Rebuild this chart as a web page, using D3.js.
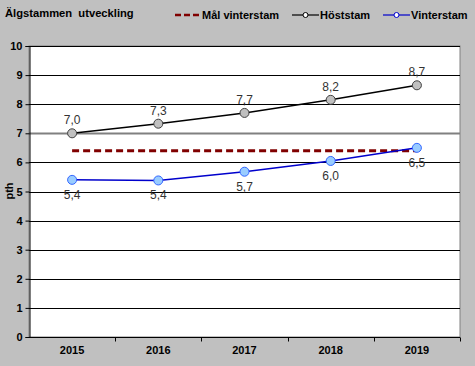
<!DOCTYPE html>
<html><head><meta charset="utf-8">
<script src="https://cdn.jsdelivr.net/npm/d3@7"></script>
<style>body{margin:0;background:#c0c0c0}svg{display:block}</style>
</head><body><svg id="c" width="475" height="366"></svg>
<script>
const years = ["2015","2016","2017","2018","2019"];
const malVinterstam = [6.4, 6.4, 6.4, 6.4, 6.4];
const hoststam = [7.0, 7.33, 7.7, 8.15, 8.65];
const vinterstam = [5.4, 5.38, 5.68, 6.05, 6.5];
const hostLabels = ["7,0","7,3","7,7","8,2","8,7"];
const vinterLabels = ["5,4","5,4","5,7","6,0","6,5"];
const yTicks = [0,1,2,3,4,5,6,7,8,9,10];

const svg = d3.select("#c");
const L = 29, R = 460, T = 46, B = 337;
const x = d3.scaleBand().domain(years).range([L, R]);
const y = d3.scaleLinear().domain([0, 10]).range([B, T]);
const cx = d => x(d) + x.bandwidth()/2;
const lf = "Arial, Liberation Sans, sans-serif";

svg.append("rect").attr("width",475).attr("height",366).attr("fill","#c0c0c0");
svg.append("rect").attr("x",L).attr("y",T).attr("width",R-L).attr("height",B-T)
  .attr("fill","#fff").attr("stroke","#808080").attr("stroke-width",1);

// gridlines
svg.append("g").selectAll("line").data(yTicks.filter(t=>t>0)).join("line")
  .attr("x1",L).attr("x2",R).attr("y1",d=>Math.round(y(d))+0.5).attr("y2",d=>Math.round(y(d))+0.5)
  .attr("stroke",d=>d===7?"#808080":"#000").attr("stroke-width",d=>d===7?2:1);

// y axis
const ya = svg.append("g").attr("transform",`translate(${L+0.5},0)`)
  .call(d3.axisLeft(y).tickValues(yTicks).tickSize(4).tickPadding(3));
ya.select(".domain").attr("stroke","#000");
ya.selectAll("text").attr("font-family",lf).attr("font-size",11).attr("font-weight","bold").attr("fill","#000");

// x axis
const xa = svg.append("g").attr("transform",`translate(0,${B+0.5})`);
xa.append("line").attr("x1",L).attr("x2",R).attr("stroke","#000");
xa.selectAll(".tk").data(years).join("line").attr("class","tk")
  .attr("x1",d=>Math.round(x(d)+x.bandwidth())+0.5).attr("x2",d=>Math.round(x(d)+x.bandwidth())+0.5)
  .attr("y1",0).attr("y2",4).attr("stroke","#000");
xa.selectAll("text").data(years).join("text")
  .attr("x",cx).attr("y",16).attr("text-anchor","middle")
  .attr("font-family",lf).attr("font-size",11).attr("font-weight","bold").text(d=>d);

// y label
svg.append("text").attr("transform","translate(13,191) rotate(-90)").attr("text-anchor","middle")
  .attr("font-family",lf).attr("font-size",11).attr("font-weight","bold").text("pth");

const line = d3.line().x((d,i)=>cx(years[i])).y(d=>y(d));
svg.append("path").datum(malVinterstam).attr("d",line).attr("fill","none")
  .attr("stroke","#800000").attr("stroke-width",3).attr("stroke-dasharray","7,4");
svg.append("path").datum(hoststam).attr("d",line).attr("fill","none").attr("stroke","#000").attr("stroke-width",1.5);
svg.append("path").datum(vinterstam).attr("d",line).attr("fill","none").attr("stroke","#0000cc").attr("stroke-width",1.5);

svg.append("g").selectAll("circle").data(hoststam).join("circle")
  .attr("cx",(d,i)=>cx(years[i])).attr("cy",d=>y(d)).attr("r",4.5)
  .attr("fill","#c0c0c0").attr("stroke","#404040").attr("stroke-width",1);
svg.append("g").selectAll("circle").data(vinterstam).join("circle")
  .attr("cx",(d,i)=>cx(years[i])).attr("cy",d=>y(d)).attr("r",4.5)
  .attr("fill","#99ccff").attr("stroke","#3366ff").attr("stroke-width",1);

svg.append("g").selectAll("text").data(hoststam).join("text")
  .attr("x",(d,i)=>cx(years[i])).attr("y",d=>y(d)-9).attr("text-anchor","middle")
  .attr("font-family",lf).attr("font-size",12).attr("fill","#333").text((d,i)=>hostLabels[i]);
svg.append("g").selectAll("text").data(vinterstam).join("text")
  .attr("x",(d,i)=>cx(years[i])).attr("y",d=>y(d)+19).attr("text-anchor","middle")
  .attr("font-family",lf).attr("font-size",12).attr("fill","#333").text((d,i)=>vinterLabels[i]);

// title
svg.append("text").attr("x",5).attr("y",17).attr("font-family",lf).attr("font-size",11.2)
  .attr("font-weight","bold").style("white-space","pre").text("Älgstammen  utveckling");

// legend
const lg = svg.append("g").attr("font-family",lf).attr("font-size",11).attr("font-weight","bold");
lg.append("line").attr("x1",175).attr("x2",200).attr("y1",15).attr("y2",15)
  .attr("stroke","#800000").attr("stroke-width",2.5).attr("stroke-dasharray","6,3");
lg.append("text").attr("x",202).attr("y",19).text("Mål vinterstam");
lg.append("line").attr("x1",292).attr("x2",319).attr("y1",15).attr("y2",15).attr("stroke","#000").attr("stroke-width",1.2);
lg.append("circle").attr("cx",305.5).attr("cy",15).attr("r",2.5).attr("fill","#fff").attr("stroke","#000");
lg.append("text").attr("x",320).attr("y",19).text("Höststam");
lg.append("line").attr("x1",383).attr("x2",410).attr("y1",15).attr("y2",15).attr("stroke","#0000cc").attr("stroke-width",1.2);
lg.append("circle").attr("cx",396.5).attr("cy",15).attr("r",2.5).attr("fill","#fff").attr("stroke","#0000cc");
lg.append("text").attr("x",411).attr("y",19).text("Vinterstam");
</script></body></html>
